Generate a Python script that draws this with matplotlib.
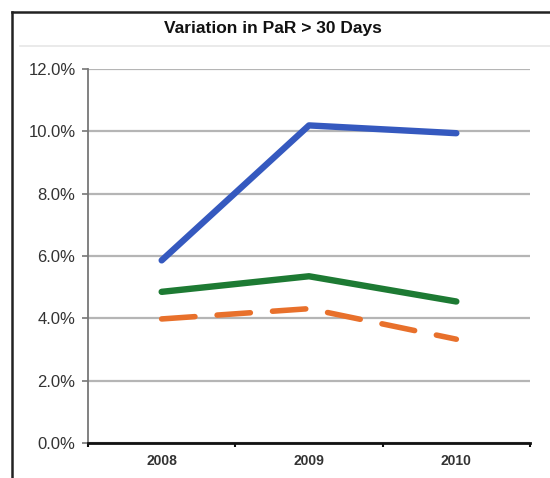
import numpy as np
import matplotlib
matplotlib.use("Agg")
import matplotlib.pyplot as plt
from matplotlib.lines import Line2D

# data
years = ["2008", "2009", "2010"]
blue_vals = [5.86, 10.19, 9.94]
green_vals = [4.85, 5.35, 4.54]
orange_vals = [3.98, 4.31, 3.33]
y_ticks = [0, 2, 4, 6, 8, 10, 12]

plt.rcParams['font.family'] = ['Liberation Sans', 'DejaVu Sans']

fig = plt.figure(figsize=(5.5, 4.78), dpi=100)
fig.patch.set_facecolor("white")

# outer frame (top + left) and title separator
fig.add_artist(Line2D([12/550, 1.0], [1-12/478, 1-12/478], color="#222222", lw=1.8))
fig.add_artist(Line2D([12/550, 12/550], [0, 1-12/478], color="#222222", lw=1.8))
fig.add_artist(Line2D([20/550, 1.0], [1-46/478, 1-46/478], color="#e6e6e6", lw=1.2))
fig.text(273/550, 1-28/478, "Variation in PaR > 30 Days", ha="center", va="center",
         fontsize=12.5, fontweight="bold", color="#111111")

ax = fig.add_axes([88/550, 1-443/478, (530-88)/550, (443-69)/478])
x = np.arange(1, len(years) + 1)

ax.plot(x, blue_vals, color="#3559bf", lw=4.6, solid_capstyle="round", zorder=3)
ax.plot(x, green_vals, color="#1d7a33", lw=4.6, solid_capstyle="round", zorder=3)
ax.plot(x, orange_vals, color="#e8702b", lw=4.0, ls=(0, (6.0, 4.0)),
        dash_capstyle="round", zorder=3)

ax.set_xlim(0.5, len(years) + 0.5)
ax.set_ylim(0, 12)
ax.set_yticks(y_ticks)
ax.set_yticklabels([f"{v:.1f}%" for v in y_ticks], fontsize=12, color="#333333")
ax.yaxis.grid(True, color="#b5b5b5", lw=1.6)
ax.set_axisbelow(True)

ax.set_xticks(x)
ax.set_xticklabels(years, fontsize=10, fontweight="bold", color="#333333")
ax.set_xticks(np.arange(0.5, len(years) + 1), minor=True)
ax.tick_params(axis="x", which="major", length=0, pad=8)
ax.tick_params(axis="x", which="minor", length=3, width=1.5, color="#111111", direction="out")
ax.tick_params(axis="y", length=4, width=1.2, color="#777777", pad=5)

for s in ["top", "right"]:
    ax.spines[s].set_visible(False)
ax.spines["left"].set_color("#777777")
ax.spines["left"].set_linewidth(1.3)
ax.spines["bottom"].set_color("#111111")
ax.spines["bottom"].set_linewidth(2.0)

fig.savefig("out.png", dpi=100)
